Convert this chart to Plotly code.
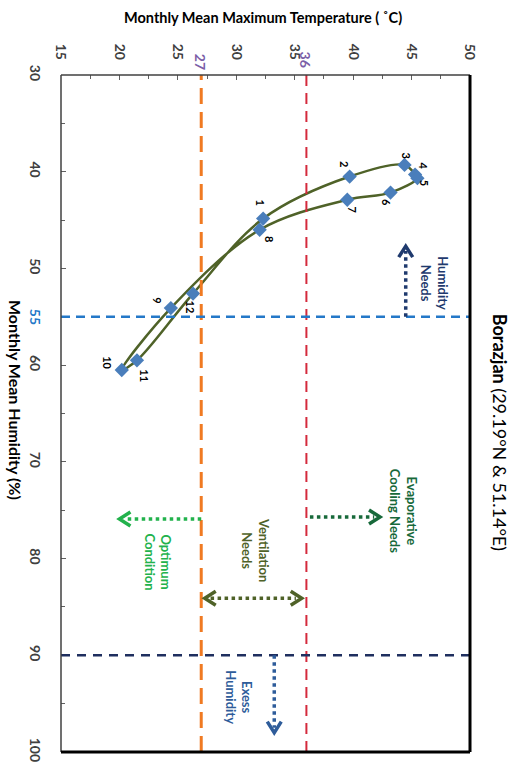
import plotly.graph_objects as go

# ---------------- data ----------------
months = [1, 2, 3, 4, 5, 6, 7, 8, 9, 10, 11, 12]
temp_max = [32.3, 39.7, 44.4, 45.3, 45.5, 43.2, 39.5, 32.0, 24.4, 20.2, 21.5, 26.3]
humidity = [44.85, 40.5, 39.3, 40.3, 40.67, 42.16, 42.9, 46.0, 54.1, 60.5, 59.5, 52.6]

temp_ticks = [15, 20, 25, 30, 35, 40, 45, 50]
hum_ticks = [30, 40, 50, 60, 70, 80, 90, 100]

T_LOW, T_HIGH = 27, 36      # comfort thresholds (temperature)
H_LOW, H_HIGH = 55, 90      # comfort thresholds (humidity)

# label offsets (screen px) for month numbers
label_dx = [-3, -5, 1, 8, 7, -4, 5, 10, -13, -15, 8, -3]
label_dy = [-16, -13, -10, -9, 5, 10, 10, 9, -8, -7, 16, 13]

# ---------------- layout constants ----------------
W, H = 512, 765
ML, MR, MT, MB = 61, 42, 75, 13
TR = [15, 50]
HR = [30, 100]
PW = W - ML - MR
PH = H - MT - MB
PX_T = PW / (TR[1] - TR[0])
PX_H = PH / (HR[1] - HR[0])
FONT = "Lato"

fig = go.Figure()

# main loop curve
fig.add_trace(go.Scatter(
    x=temp_max + temp_max[:1], y=humidity + humidity[:1],
    mode="lines", line=dict(color="#4F6228", width=2.5, shape="spline", smoothing=1.0),
    hoverinfo="skip", showlegend=False))
fig.add_trace(go.Scatter(
    x=temp_max, y=humidity, mode="markers",
    marker=dict(symbol="diamond", size=11, color="#4A7EBB"),
    showlegend=False))

shapes = []
# threshold dashed lines
shapes.append(dict(type="line", xref="x", yref="paper", x0=T_LOW, x1=T_LOW, y0=0, y1=1,
                   line=dict(color="#F07A22", width=3, dash="16px,8px")))
shapes.append(dict(type="line", xref="x", yref="paper", x0=T_HIGH, x1=T_HIGH, y0=0, y1=1,
                   line=dict(color="#D42A3C", width=2, dash="11px,7px")))
shapes.append(dict(type="line", xref="paper", yref="y", x0=0, x1=1, y0=H_LOW, y1=H_LOW,
                   line=dict(color="#2478C8", width=2.5, dash="9px,6px")))
shapes.append(dict(type="line", xref="paper", yref="y", x0=0, x1=1, y0=H_HIGH, y1=H_HIGH,
                   line=dict(color="#1F2F5F", width=2.5, dash="9px,7px")))


def chevron(tx, ty, direction, color):
    """open arrow head with tip at (tx, ty) in data units."""
    L, Wd = 11, 7
    if direction == "up":
        p = [(tx - Wd / PX_T, ty + L / PX_H), (tx, ty), (tx + Wd / PX_T, ty + L / PX_H)]
    elif direction == "down":
        p = [(tx - Wd / PX_T, ty - L / PX_H), (tx, ty), (tx + Wd / PX_T, ty - L / PX_H)]
    elif direction == "right":
        p = [(tx - L / PX_T, ty - Wd / PX_H), (tx, ty), (tx - L / PX_T, ty + Wd / PX_H)]
    else:
        p = [(tx + L / PX_T, ty - Wd / PX_H), (tx, ty), (tx + L / PX_T, ty + Wd / PX_H)]
    path = "M {} {} L {} {} L {} {}".format(p[0][0], p[0][1], p[1][0], p[1][1], p[2][0], p[2][1])
    return dict(type="path", xref="x", yref="y", path=path,
                line=dict(color=color, width=3.5))


def dotted(x0, y0, x1, y1, color):
    return dict(type="line", xref="x", yref="y", x0=x0, y0=y0, x1=x1, y1=y1,
                line=dict(color=color, width=3.5, dash="3.5px,3.5px"))


# Humidity needs
c = "#1F3A6E"
shapes.append(dotted(44.5, H_LOW, 44.5, 48.2, c))
shapes.append(chevron(44.5, 47.7, "up", c))
# Evaporative cooling needs
c = "#17693A"
shapes.append(dotted(T_HIGH + 0.3, 75.7, 41.8, 75.7, c))
shapes.append(chevron(42.3, 75.7, "right", c))
# Optimum condition
c = "#22B24C"
shapes.append(dotted(T_LOW, 75.9, 20.5, 75.9, c))
shapes.append(chevron(20.0, 75.9, "left", c))
# Ventilation needs
c = "#4F6228"
shapes.append(dotted(27.8, 84.1, 35.1, 84.1, c))
shapes.append(chevron(27.3, 84.1, "left", c))
shapes.append(chevron(35.6, 84.1, "right", c))
# Exess humidity
c = "#2E5C9A"
shapes.append(dotted(33.25, H_HIGH, 33.25, 97.5, c))
shapes.append(chevron(33.25, 98.0, "down", c))

# plot border
shapes.append(dict(type="line", xref="paper", yref="paper", x0=0, x1=0, y0=0, y1=1,
                   line=dict(color="#404040", width=1.5)))
shapes.append(dict(type="line", xref="paper", yref="paper", x0=0, x1=1, y0=1, y1=1,
                   line=dict(color="#404040", width=1.5)))
shapes.append(dict(type="line", xref="paper", yref="paper", x0=1, x1=1, y0=0, y1=1,
                   line=dict(color="#000000", width=3)))
shapes.append(dict(type="line", xref="paper", yref="paper", x0=0, x1=1, y0=0, y1=0,
                   line=dict(color="#000000", width=3)))

ann = []
for m, t, h, dx, dy in zip(months, temp_max, humidity, label_dx, label_dy):
    ann.append(dict(x=t, y=h, text="<b>%d</b>" % m, showarrow=False, textangle=90,
                    xanchor="center", yanchor="middle",
                    xshift=dx, yshift=-dy, font=dict(family=FONT, size=11, color="#000000")))


def rot_text(x, y, text, color, size=13):
    return dict(x=x, y=y, text="<b>" + text + "</b>", showarrow=False, textangle=90,
                xanchor="center", yanchor="middle",
                font=dict(family=FONT, size=size, color=color))


ann.append(rot_text(46.9, 51.5, "Humidity<br>Needs", "#1F3A6E"))
ann.append(rot_text(44.3, 75.1, "Evaporative<br>Cooling Needs", "#17693A"))
ann.append(rot_text(23.3, 80.4, "Optimum<br>Condition", "#22B24C"))
ann.append(rot_text(31.6, 79.1, "Ventilation<br>Needs", "#4F6228"))
ann.append(rot_text(30.2, 94.3, "Exess<br>Humidity", "#2E5C9A"))


def edge_label(**kw):
    d = dict(showarrow=False, xanchor="center", yanchor="middle")
    d.update(kw)
    return d


# threshold value labels
ann.append(edge_label(x=T_LOW, y=1, xref="x", yref="paper", yshift=13, text="<b>27</b>",
                      textangle=90, font=dict(family=FONT, size=14, color="#7B5EA7")))
ann.append(edge_label(x=T_HIGH, y=1, xref="x", yref="paper", yshift=15, text="<b>36</b>",
                      textangle=90, font=dict(family=FONT, size=14, color="#7B5EA7")))
ann.append(edge_label(x=0, y=H_LOW, xref="paper", yref="y", xshift=-26, text="<b>55</b>",
                      textangle=90, font=dict(family=FONT, size=14, color="#2478C8")))

# titles
ann.append(edge_label(x=0.494, y=1, xref="paper", yref="paper", yshift=58,
                      text="<b>Monthly Mean Maximum Temperature ( ˚C)</b>",
                      font=dict(family=FONT, size=14.5, color="#000000")))
ann.append(edge_label(x=0, y=0.52, xref="paper", yref="paper", xshift=-46,
                      text="<b>Monthly Mean Humidity (%)</b>", textangle=90,
                      font=dict(family=FONT, size=16, color="#000000")))
ann.append(edge_label(x=1, y=0.473, xref="paper", yref="paper", xshift=30,
                      text="<b>Borazjan</b> (29.19°N & 51.14°E)", textangle=90,
                      font=dict(family=FONT, size=18, color="#000000")))

fig.update_layout(
    width=W, height=H,
    margin=dict(l=ML, r=MR, t=MT, b=MB, autoexpand=False),
    paper_bgcolor="white", plot_bgcolor="white",
    shapes=shapes, annotations=ann, showlegend=False,
    xaxis=dict(range=TR, side="top", tickvals=temp_ticks, automargin=False,
               ticktext=["<b>%d</b>" % v for v in temp_ticks],
               tickangle=90, ticks="inside", ticklen=5, tickcolor="#606060",
               ticklabelstandoff=12, showgrid=False, zeroline=False, showline=False,
               tickfont=dict(family=FONT, size=14, color="#404040"),
               minor=dict(dtick=2.5, ticks="inside", ticklen=4, tickcolor="#606060")),
    yaxis=dict(range=[HR[1], HR[0]], tickvals=hum_ticks, automargin=False,
               ticktext=["<b>%d</b>" % v for v in hum_ticks],
               tickangle=90, ticks="inside", ticklen=5, tickcolor="#606060",
               ticklabelstandoff=16, showgrid=False, zeroline=False, showline=False,
               tickfont=dict(family=FONT, size=14, color="#404040"),
               minor=dict(dtick=5, ticks="inside", ticklen=4, tickcolor="#606060")),
)

fig.write_html("out.html", config={"displayModeBar": False},
               post_script="document.body.style.margin='0px';document.body.style.overflow='hidden';")
